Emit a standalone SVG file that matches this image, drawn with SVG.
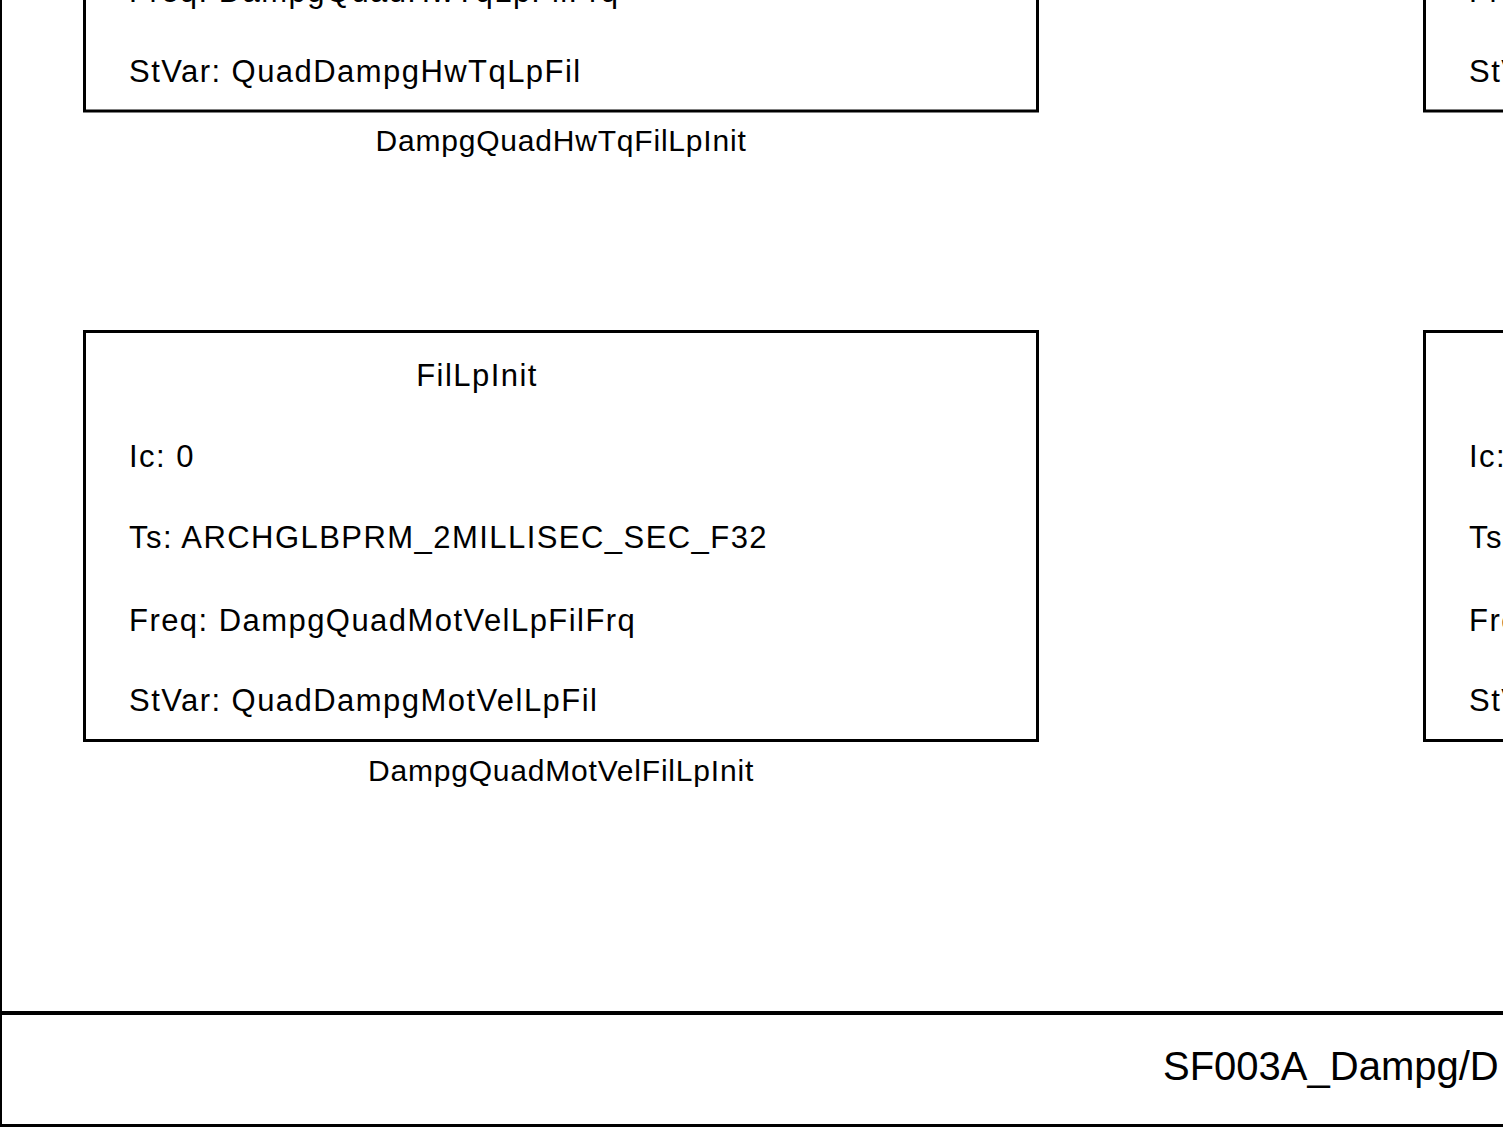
<svg xmlns="http://www.w3.org/2000/svg" width="1503" height="1131" viewBox="0 0 1503 1131">
<style>
.box{fill:#fff;stroke:#000;stroke-width:3}
.frame{stroke:#000;fill:none}
.t{font-family:"Liberation Sans",Arial,sans-serif;font-size:31px;fill:#000;letter-spacing:1.45px}
.lbl{font-family:"Liberation Sans",Arial,sans-serif;font-size:30px;fill:#000;letter-spacing:0.8px;text-anchor:middle}
.foot{font-family:"Liberation Sans",Arial,sans-serif;font-size:40px;fill:#000}
</style>
<rect width="1503" height="1131" fill="#fff"/>
<g id="frame">
<line class="frame" x1="1" y1="0" x2="1" y2="1127" stroke-width="2"/>
<line class="frame" x1="0" y1="1013" x2="1503" y2="1013" stroke-width="4"/>
<line class="frame" x1="0" y1="1125.5" x2="1503" y2="1125.5" stroke-width="3"/>
<text class="foot" x="1163" y="1080">SF003A_Dampg/D</text>
</g>
<g id="DampgQuadHwTqFilLpInit">
<rect class="box" x="84.5" y="-300" width="953" height="411"/>
<text class="t" x="129" y="2">Freq: DampgQuadHwTqLpFilFrq</text>
<text class="t" x="129" y="82">StVar: QuadDampgHwTqLpFil</text>
<text class="lbl" x="561" y="151">DampgQuadHwTqFilLpInit</text>
</g>
<g id="DampgQuadMotVelFilLpInit">
<rect class="box" x="84.5" y="331.5" width="953" height="409"/>
<text class="t" x="477" y="386" text-anchor="middle">FilLpInit</text>
<text class="t" x="129" y="467">Ic: 0</text>
<text class="t" x="129" y="548">Ts: ARCHGLBPRM_2MILLISEC_SEC_F32</text>
<text class="t" x="129" y="631">Freq: DampgQuadMotVelLpFilFrq</text>
<text class="t" x="129" y="711">StVar: QuadDampgMotVelLpFil</text>
<text class="lbl" x="561" y="781">DampgQuadMotVelFilLpInit</text>
</g>
<g id="rightTop">
<rect class="box" x="1424.5" y="-300" width="400" height="411"/>
<text class="t" x="1469" y="2">Freq:</text>
<text class="t" x="1469" y="82">StVar:</text>
</g>
<g id="rightBottom">
<rect class="box" x="1424.5" y="331.5" width="400" height="409"/>
<text class="t" x="1469" y="467">Ic:</text>
<text class="t" x="1469" y="548">Ts:</text>
<text class="t" x="1469" y="631">Freq:</text>
<text class="t" x="1469" y="711">StVar:</text>
</g>
<g id="connectors"></g>
</svg>
